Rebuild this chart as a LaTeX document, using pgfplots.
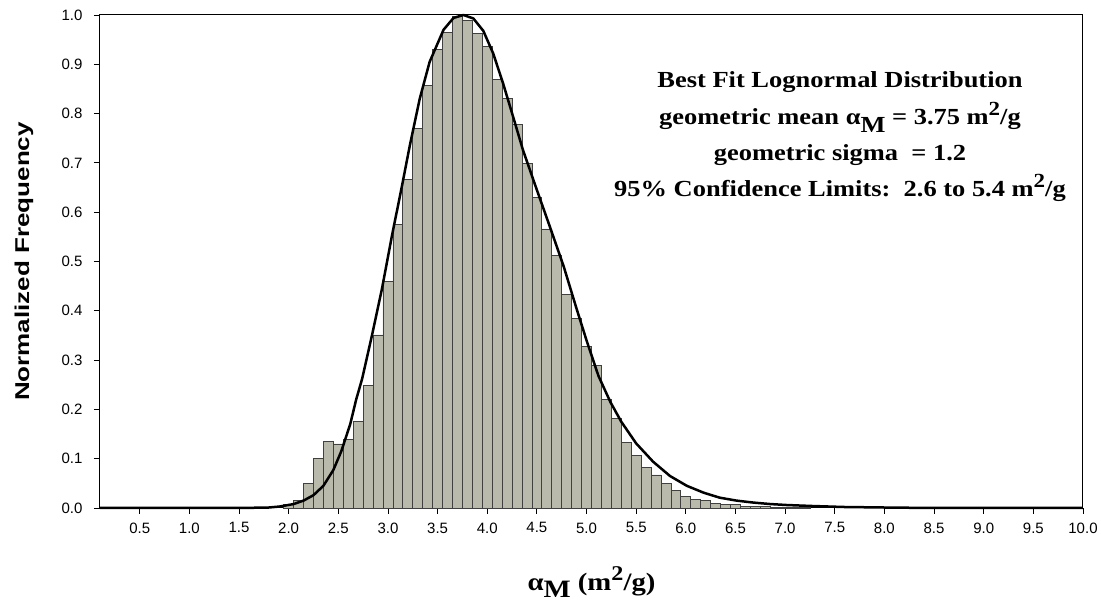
\documentclass[border=0pt]{standalone}
\usepackage{fontspec}
\setmainfont{Liberation Sans}
\newfontfamily\tnr[FakeStretch=1.15]{Liberation Serif}
\newfontfamily\arialw[FakeStretch=1.3]{Liberation Sans}
\usepackage{graphicx}
\usepackage{pgfplots}
\usepackage{pgfplotstable}
\pgfplotsset{compat=1.18}

\definecolor{barfill}{RGB}{185,185,172}

% histogram, bins of 0.1
\pgfplotstableread{
x y
2.0 0.008
2.1 0.015
2.2 0.049
2.3 0.100
2.4 0.135
2.5 0.130
2.6 0.139
2.7 0.176
2.8 0.249
2.9 0.351
3.0 0.460
3.1 0.575
3.2 0.667
3.3 0.770
3.4 0.858
3.5 0.931
3.6 0.965
3.7 0.997
3.8 0.989
3.9 0.963
4.0 0.936
4.1 0.870
4.2 0.830
4.3 0.778
4.4 0.699
4.5 0.629
4.6 0.566
4.7 0.512
4.8 0.433
4.9 0.385
5.0 0.327
5.1 0.290
5.2 0.220
5.3 0.182
5.4 0.133
5.5 0.106
5.6 0.083
5.7 0.067
5.8 0.049
5.9 0.035
6.0 0.023
6.1 0.018
6.2 0.015
6.3 0.010
6.4 0.007
6.5 0.007
6.6 0.004
6.7 0.003
6.8 0.003
6.9 0.002
7.0 0.002
7.1 0.001
7.2 0.001
}\bars

% lognormal fit
\pgfplotstableread{
x y
0.1 0
1.5 0
1.8 0.001
1.91 0.003
2.05 0.008
2.15 0.015
2.25 0.026
2.35 0.045
2.45 0.077
2.53 0.115
2.62 0.170
2.68 0.220
2.74 0.262
2.84 0.351
2.94 0.445
3.04 0.552
3.14 0.652
3.22 0.735
3.32 0.830
3.42 0.905
3.56 0.970
3.66 0.994
3.76 1.000
3.86 0.993
3.96 0.968
4.06 0.922
4.16 0.861
4.26 0.794
4.36 0.726
4.50 0.645
4.63 0.571
4.77 0.490
4.90 0.404
5.00 0.340
5.12 0.268
5.24 0.215
5.35 0.175
5.50 0.131
5.67 0.094
5.84 0.065
6.01 0.045
6.18 0.031
6.34 0.021
6.51 0.015
6.68 0.011
6.85 0.008
7.02 0.006
7.28 0.004
7.6 0.002
8.0 0.001
8.5 0
10.0 0
}\fit

\begin{document}
\begin{tikzpicture}
\path[use as bounding box] (-100pt,-97pt) rectangle (1001pt,508pt);
\begin{axis}[
    at={(0pt,0pt)}, anchor=south west,
    scale only axis,
    width=983pt, height=493pt,
    xmin=0.1, xmax=10, ymin=0, ymax=1,
    xtick={0.5,1.0,1.5,2.0,2.5,3.0,3.5,4.0,4.5,5.0,5.5,6.0,6.5,7.0,7.5,8.0,8.5,9.0,9.5,10.0},
    ytick={0,0.1,0.2,0.3,0.4,0.5,0.6,0.7,0.8,0.9,1.0},
    tick pos=left,
    tick align=outside,
    major tick length=6pt,
    tick style={black, line width=0.8pt},
    axis line style={black, line width=1pt},
    ticklabel style={font=\fontsize{15}{18}\selectfont},
    xticklabel style={yshift=-5pt},
    yticklabel style={xshift=-8pt},
    /pgf/number format/.cd, fixed, fixed zerofill, precision=1, assume math mode=true,
    /pgfplots/.cd,
    clip=false,
]
\addplot[ybar, bar width=0.1, fill=barfill, draw=black!75, line width=0.8pt] table {\bars};
\addplot[black, line width=2.5pt, line join=round] table {\fit};
\end{axis}

\node[rotate=90, font=\arialw\bfseries\fontsize{20}{24}\selectfont] at (-76pt,246.5pt) {Normalized Frequency};
\node[anchor=base, inner sep=0pt, font=\tnr\bfseries\fontsize{25}{30}\selectfont] at (491.5pt,-83pt)
    {α\raisebox{-0.25em}{M} (m\raisebox{0.42em}{\fontsize{21}{21}\selectfont 2}/g)};

\begin{scope}[every node/.style={anchor=base, inner sep=0pt, font=\tnr\bfseries\fontsize{23}{27}\selectfont}]
\node at (740pt,420pt) {Best Fit Lognormal Distribution};
\node at (740pt,383.5pt) {geometric mean α\raisebox{-0.35em}{M} = 3.75 m\raisebox{0.4em}{\fontsize{20}{20}\selectfont 2}/g};
\node at (740pt,347.5pt) {geometric sigma~~= 1.2};
\node at (740pt,311pt) {95\% Confidence Limits:~~2.6 to 5.4 m\raisebox{0.4em}{\fontsize{20}{20}\selectfont 2}/g};
\end{scope}
\end{tikzpicture}
\end{document}
